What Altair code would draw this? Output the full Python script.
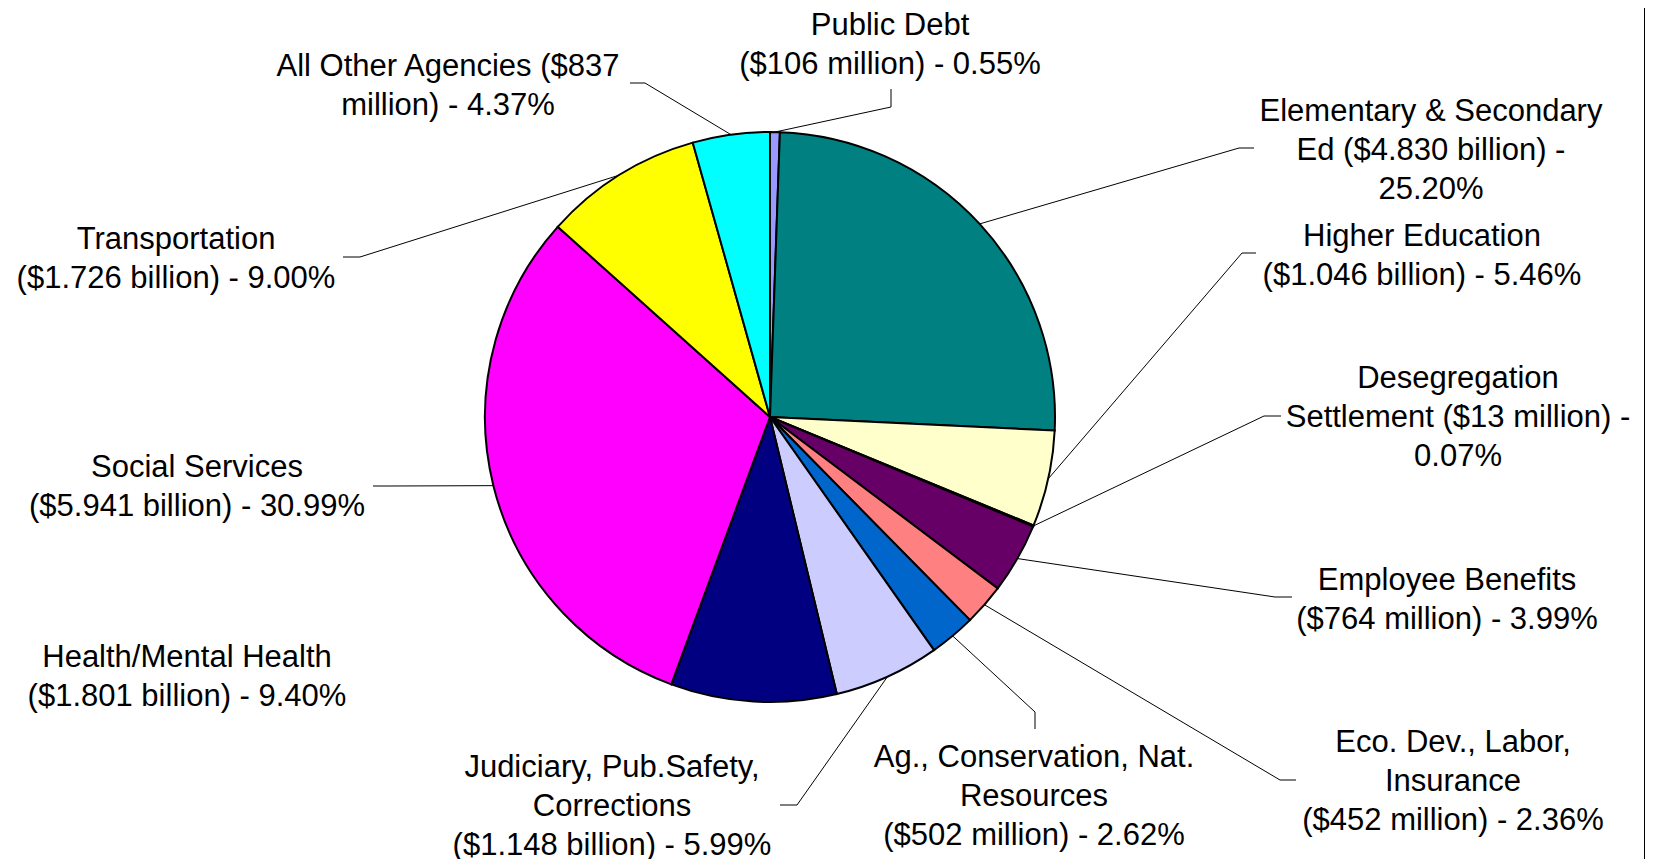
import math
import altair as alt
import pandas as pd

# ---------------- data ----------------
categories = [
    "Public Debt",
    "Elementary & Secondary Ed",
    "Higher Education",
    "Desegregation Settlement",
    "Employee Benefits",
    "Eco. Dev., Labor, Insurance",
    "Ag., Conservation, Nat. Resources",
    "Judiciary, Pub.Safety, Corrections",
    "Health/Mental Health",
    "Social Services",
    "Transportation",
    "All Other Agencies",
]
amounts_millions = [106, 4830, 1046, 13, 764, 452, 502, 1148, 1801, 5941, 1726, 837]
label_lines = [
    ["Public Debt", "($106 million) - 0.55%"],
    ["Elementary & Secondary", "Ed ($4.830 billion) -", "25.20%"],
    ["Higher Education", "($1.046 billion) - 5.46%"],
    ["Desegregation", "Settlement ($13 million) -", "0.07%"],
    ["Employee Benefits", "($764 million) - 3.99%"],
    ["Eco. Dev., Labor,", "Insurance", "($452 million) - 2.36%"],
    ["Ag., Conservation, Nat.", "Resources", "($502 million) - 2.62%"],
    ["Judiciary, Pub.Safety,", "Corrections", "($1.148 billion) - 5.99%"],
    ["Health/Mental Health", "($1.801 billion) - 9.40%"],
    ["Social Services", "($5.941 billion) - 30.99%"],
    ["Transportation", "($1.726 billion) - 9.00%"],
    ["All Other Agencies ($837", "million) - 4.37%"],
]

# ---------------- styles ----------------
palette = ["#9999FF", "#008080", "#FFFFCC", "#CCFFFF", "#660066", "#FF8080",
           "#0066CC", "#CCCCFF", "#000080", "#FF00FF", "#FFFF00", "#00FFFF"]
FONT = "Liberation Sans"
FONT_SIZE = 31
LINE_GAP = 39

# ---------------- layout (page pixel coordinates) ----------------
MARGIN = 8
W, H = 1637, 851
CX, CY, R = 770, 417, 285
# label anchor: centre x, cap-centre y of first line
label_anchor = {
    "Public Debt": (890, 24),
    "Elementary & Secondary Ed": (1431, 110),
    "Higher Education": (1422, 235),
    "Desegregation Settlement": (1458, 377),
    "Employee Benefits": (1447, 579),
    "Eco. Dev., Labor, Insurance": (1453, 741),
    "Ag., Conservation, Nat. Resources": (1034, 756),
    "Judiciary, Pub.Safety, Corrections": (612, 766),
    "Health/Mental Health": (187, 656),
    "Social Services": (197, 466),
    "Transportation": (176, 238),
    "All Other Agencies": (448, 65),
}
# leader lines: elbow point then end point near the label
leader_path = {
    "Public Debt": [(891, 107), (891, 89)],
    "Elementary & Secondary Ed": [(1239, 148), (1254, 148)],
    "Higher Education": [(1242, 253), (1256, 253)],
    "Desegregation Settlement": [(1264, 416), (1281, 416)],
    "Employee Benefits": [(1275, 597), (1292, 597)],
    "Eco. Dev., Labor, Insurance": [(1280, 780), (1296, 780)],
    "Ag., Conservation, Nat. Resources": [(1035, 712), (1035, 729)],
    "Judiciary, Pub.Safety, Corrections": [(797, 805), (780, 805)],
    "Social Services": [(390, 486), (373, 486)],
    "Transportation": [(360, 257), (343, 257)],
    "All Other Agencies": [(645, 83), (630, 83)],
}
BORDER_X = 1644.5

# ---------------- tables built from the data ----------------
pie_df = pd.DataFrame({
    "category": categories,
    "amount": amounts_millions,
    "idx": list(range(len(categories))),
})

total = float(sum(amounts_millions))
rows_lines = []
cum = 0.0
for cat, amt in zip(categories, amounts_millions):
    mid = (cum + amt / 2.0) / total * 2 * math.pi
    cum += amt
    if cat not in leader_path:
        continue
    ex = CX + R * math.sin(mid)
    ey = CY - R * math.cos(mid)
    pts = [(ex, ey)] + leader_path[cat]
    for k, (px, py) in enumerate(pts):
        rows_lines.append({"category": cat, "step": k, "px": px, "py": py})
lines_df = pd.DataFrame(rows_lines)

rows_text = []
for cat, lines in zip(categories, label_lines):
    ax, ay = label_anchor[cat]
    for i, t in enumerate(lines):
        rows_text.append({"category": cat, "text": t, "px": ax, "py": ay + 2 + i * LINE_GAP})
text_df = pd.DataFrame(rows_text)

xs = alt.Scale(domain=[MARGIN, MARGIN + W], range=[0, W], nice=False, zero=False)
ys = alt.Scale(domain=[MARGIN, MARGIN + H], range=[0, H], nice=False, zero=False)

pie = alt.Chart(pie_df).mark_arc(radius=R, stroke="black", strokeWidth=2).encode(
    theta=alt.Theta("amount:Q", stack=True),
    color=alt.Color("category:N", scale=alt.Scale(domain=categories, range=palette), legend=None),
    order=alt.Order("idx:Q"),
    x=alt.value(CX - MARGIN),
    y=alt.value(CY - MARGIN),
)

leaders = alt.Chart(lines_df).mark_line(color="black", strokeWidth=1).encode(
    x=alt.X("px:Q", scale=xs, axis=None),
    y=alt.Y("py:Q", scale=ys, axis=None),
    detail="category:N",
    order="step:Q",
)

labels = alt.Chart(text_df).mark_text(
    font=FONT, fontSize=FONT_SIZE, align="center", baseline="middle", color="black"
).encode(
    x=alt.X("px:Q", scale=xs, axis=None),
    y=alt.Y("py:Q", scale=ys, axis=None),
    text="text:N",
)

border = alt.Chart(pd.DataFrame({"b": [0]})).mark_rule(color="black", strokeWidth=1).encode(
    x=alt.value(BORDER_X - MARGIN),
    y=alt.value(0),
    y2=alt.value(H),
)

chart = alt.layer(pie, leaders, labels, border).properties(
    width=W, height=H, autosize="none", padding=0, background="white"
).configure_view(strokeWidth=0)

chart.save("out.html", embed_options={"renderer": "svg", "actions": False})
